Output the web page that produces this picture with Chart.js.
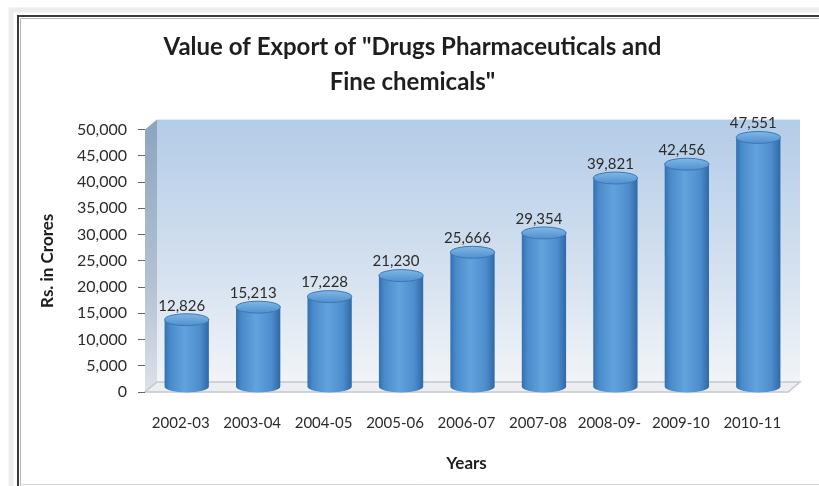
<!DOCTYPE html>
<html>
<head>
<meta charset="utf-8">
<title>Value of Export of Drugs Pharmaceuticals and Fine chemicals</title>
<script src="https://cdn.jsdelivr.net/npm/chart.js@4"></script>
<style>
	html, body { margin: 0; padding: 0; background: #fff; }
	#wrap { width: 819px; height: 486px; position: relative; }
</style>
</head>
<body>
<div id="wrap"><canvas id="exportChart" width="819" height="486"></canvas></div>
<script>
// Chart data
const years = ['2002-03', '2003-04', '2004-05', '2005-06', '2006-07', '2007-08', '2008-09-', '2009-10', '2010-11'];
const exportValues = [12826, 15213, 17228, 21230, 25666, 29354, 39821, 42456, 47551];
const yTicks = [0, 5000, 10000, 15000, 20000, 25000, 30000, 35000, 40000, 45000, 50000];

const DEPTH_X = 12;
const DEPTH_Y = 10;
const FONT = 'Lato, "Open Sans", sans-serif';

function fmt(v) {
	return v.toLocaleString('en-US');
}

// Frame, walls and floor behind the bars
const backdrop = {
	id: 'backdrop',
	beforeDraw(chart) {
		const ctx = chart.ctx;
		const a = chart.chartArea;
		const W = chart.width, H = chart.height;
		ctx.save();

		ctx.fillStyle = '#fff';
		ctx.fillRect(0, 0, W, H);

		// soft shadow of the frame
		ctx.strokeStyle = 'rgba(0,0,0,0.07)';
		ctx.lineWidth = 5;
		ctx.beginPath();
		ctx.moveTo(11, H);
		ctx.lineTo(11, 10);
		ctx.lineTo(W, 10);
		ctx.stroke();

		// dark frame (top and left)
		ctx.strokeStyle = '#3a3a3a';
		ctx.lineWidth = 2;
		ctx.beginPath();
		ctx.moveTo(18, H);
		ctx.lineTo(18, 16);
		ctx.lineTo(W, 16);
		ctx.stroke();
		ctx.strokeStyle = '#b5b5b5';
		ctx.lineWidth = 1;
		ctx.beginPath();
		ctx.moveTo(20.5, H);
		ctx.lineTo(20.5, 18.5);
		ctx.lineTo(W, 18.5);
		ctx.stroke();
		// light bottom edge
		ctx.strokeStyle = '#d6d6d6';
		ctx.beginPath();
		ctx.moveTo(20, H - 1.5);
		ctx.lineTo(W, H - 1.5);
		ctx.stroke();

		// back wall
		const bx = a.left + DEPTH_X, by = a.top - DEPTH_Y;
		const g = ctx.createLinearGradient(0, by, 0, a.bottom - DEPTH_Y);
		g.addColorStop(0, '#b3cce8');
		g.addColorStop(0.55, '#d3e0ef');
		g.addColorStop(1, '#f1f4f8');
		ctx.fillStyle = g;
		ctx.fillRect(bx, by, a.right - a.left, a.bottom - a.top);

		// left wall
		const lg = ctx.createLinearGradient(0, a.top, 0, a.bottom);
		lg.addColorStop(0, '#8ea6c2');
		lg.addColorStop(0.6, '#b4c2d2');
		lg.addColorStop(1, '#dde2e8');
		ctx.fillStyle = lg;
		ctx.beginPath();
		ctx.moveTo(a.left, a.top);
		ctx.lineTo(bx, by);
		ctx.lineTo(bx, a.bottom - DEPTH_Y);
		ctx.lineTo(a.left, a.bottom);
		ctx.closePath();
		ctx.fill();

		// floor
		ctx.fillStyle = '#eceef1';
		ctx.strokeStyle = '#c4c8cc';
		ctx.lineWidth = 1.5;
		ctx.beginPath();
		ctx.moveTo(a.left, a.bottom);
		ctx.lineTo(a.right, a.bottom);
		ctx.lineTo(a.right + DEPTH_X, a.bottom - DEPTH_Y);
		ctx.lineTo(bx, a.bottom - DEPTH_Y);
		ctx.closePath();
		ctx.fill();
		ctx.stroke();
		ctx.restore();
	}
};

// Cylinders and value labels drawn on top of the (transparent) bar elements
const cylinders = {
	id: 'cylinders',
	afterDatasetsDraw(chart) {
		const ctx = chart.ctx;
		const meta = chart.getDatasetMeta(0);
		ctx.save();
		meta.data.forEach(function(bar, i) {
			const w = bar.width;
			const x0 = bar.x - w / 2 + DEPTH_X / 2;
			const x1 = x0 + w;
			const cx = (x0 + x1) / 2;
			const top = bar.y - DEPTH_Y / 2;
			const bottom = bar.base - DEPTH_Y / 2;
			const ry = 6;

			const body = ctx.createLinearGradient(x0, 0, x1, 0);
			body.addColorStop(0, '#3370b0');
			body.addColorStop(0.12, '#4889ca');
			body.addColorStop(0.45, '#62a3dd');
			body.addColorStop(0.8, '#4d8dcd');
			body.addColorStop(1, '#3068a6');
			ctx.fillStyle = body;
			ctx.beginPath();
			ctx.moveTo(x0, top);
			ctx.lineTo(x0, bottom);
			ctx.ellipse(cx, bottom, w / 2, ry, 0, Math.PI, 0, true);
			ctx.lineTo(x1, top);
			ctx.closePath();
			ctx.fill();

			// top cap
			const cap = ctx.createLinearGradient(0, top - ry, 0, top + ry);
			cap.addColorStop(0, '#80b7e6');
			cap.addColorStop(1, '#5090ce');
			ctx.fillStyle = cap;
			ctx.strokeStyle = '#3d77b4';
			ctx.lineWidth = 1;
			ctx.beginPath();
			ctx.ellipse(cx, top, w / 2, ry, 0, 0, Math.PI * 2);
			ctx.fill();
			ctx.stroke();

			// value label
			ctx.fillStyle = '#2b2b2b';
			ctx.font = '15px ' + FONT;
			ctx.textAlign = 'center';
			ctx.textBaseline = 'middle';
			ctx.fillText(fmt(exportValues[i]), bar.x + 1, bar.y - 19);
		});
		ctx.restore();
	}
};

const ctx = document.getElementById('exportChart').getContext('2d');
new Chart(ctx, {
	type: 'bar',
	data: {
		labels: years,
		datasets: [{
			label: 'Rs. in Crores',
			data: exportValues,
			backgroundColor: 'rgba(0,0,0,0)',
			borderWidth: 0,
			categoryPercentage: 1,
			barPercentage: 0.62
		}]
	},
	options: {
		responsive: false,
		animation: false,
		layout: {
			padding: { top: 0, right: 31, bottom: 12, left: 37 }
		},
		plugins: {
			legend: { display: false },
			tooltip: { enabled: false },
			title: {
				display: true,
				text: ['Value of Export of "Drugs Pharmaceuticals and', 'Fine chemicals"'],
				color: '#1e1e1e',
				font: { family: FONT, size: 24, weight: 'bold', lineHeight: 1.45 },
				padding: { top: 30, bottom: 30 }
			}
		},
		scales: {
			y: {
				min: 0,
				max: 50000,
				afterBuildTicks: function(scale) {
					scale.ticks = yTicks.map(v => ({ value: v }));
				},
				afterFit: function(scale) {
					scale.width = 108;
				},
				border: { display: false },
				grid: {
					drawOnChartArea: false,
					drawTicks: true,
					tickLength: 7,
					color: '#666'
				},
				ticks: {
					color: '#2b2b2b',
					padding: 11,
					font: { family: FONT, size: 16 },
					callback: v => fmt(v)
				},
				title: {
					display: true,
					text: 'Rs. in Crores',
					color: '#1e1e1e',
					font: { family: FONT, size: 17, weight: 'bold' },
					padding: { top: 0, bottom: 0 }
				}
			},
			x: {
				afterFit: function(scale) {
					scale.height = 82;
				},
				border: { display: false },
				grid: { display: false, drawTicks: false },
				ticks: {
					color: '#2b2b2b',
					padding: 22,
					maxRotation: 0,
					autoSkip: false,
					font: { family: FONT, size: 15 }
				},
				title: {
					display: true,
					text: 'Years',
					color: '#1e1e1e',
					font: { family: FONT, size: 17, weight: 'bold' },
					padding: { top: 0, bottom: 0 }
				}
			}
		}
	},
	plugins: [backdrop, cylinders]
});
</script>
</body>
</html>
